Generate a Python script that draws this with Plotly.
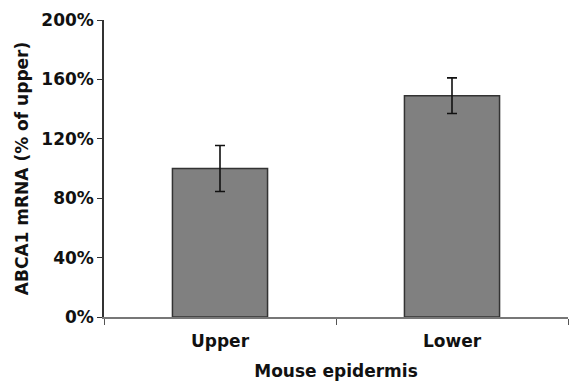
import plotly.graph_objects as go

categories = ["Upper", "Lower"]
values = [100, 149]
errors = [15.5, 12]
y_ticks = [0, 40, 80, 120, 160, 200]
y_tick_labels = ["0%", "40%", "80%", "120%", "160%", "200%"]

fig = go.Figure()
fig.add_trace(go.Bar(
    x=categories, y=values, width=0.41,
    marker=dict(color="#808080", line=dict(color="#333333", width=1.5)),
    error_y=dict(type="data", array=errors, visible=True, color="#111111", thickness=1.6, width=5),
))

font_family = "DejaVu Sans, sans-serif"
fig.update_layout(
    width=571, height=381,
    margin=dict(l=104, r=3, t=20, b=64),
    paper_bgcolor="white", plot_bgcolor="white",
    showlegend=False,
    font=dict(family=font_family, size=17, color="#111111"),
    xaxis=dict(
        showline=True, linecolor="#777777", linewidth=1.5,
        ticks="outside", tickson="boundaries", ticklen=6, tickcolor="#555555",
        ticklabelstandoff=8,
        tickfont=dict(family=font_family, size=17, color="#111111", weight="bold"),
        title=dict(text="<b>Mouse epidermis</b>", font=dict(size=17), standoff=16),
        showgrid=False,
    ),
    yaxis=dict(
        range=[0, 200], tickvals=y_ticks, ticktext=y_tick_labels,
        showline=True, linecolor="#333333", linewidth=1.5,
        ticks="outside", ticklen=5, tickcolor="#333333",
        tickfont=dict(family=font_family, size=17, color="#111111", weight="bold"),
        title=dict(text="<b>ABCA1 mRNA (% of upper)</b>", font=dict(size=17), standoff=8),
        showgrid=False, zeroline=False,
    ),
)

fig.write_html("out.html")
